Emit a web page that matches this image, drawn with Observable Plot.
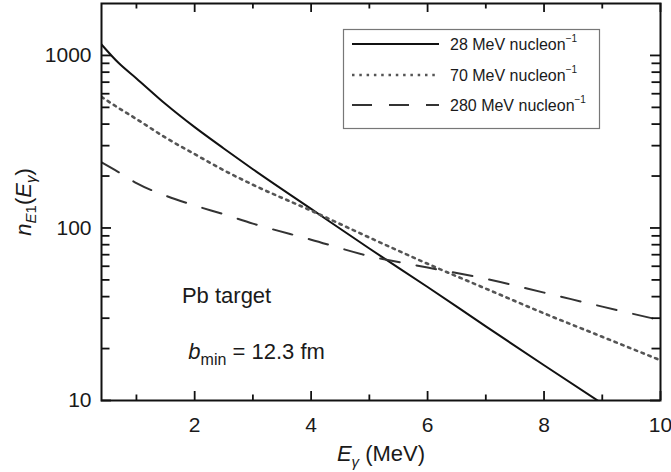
<!DOCTYPE html>
<html><head><meta charset="utf-8">
<script src="https://cdn.jsdelivr.net/npm/d3@7"></script>
<script src="https://cdn.jsdelivr.net/npm/@observablehq/plot@0.6"></script>
<style>
body{margin:0;background:#fff;}
#chart svg{font-family:"Liberation Sans",Arial,Helvetica,sans-serif;}
</style></head><body><div id="chart"></div>
<script>
// photon energy (MeV)
const energies = [0.4, 0.7, 1, 1.5, 2, 2.5, 3, 4, 5, 6, 7, 8, 9, 10];
// n_E1 for each beam energy
const n28 = [1158, 900, 736, 523, 384, 289, 219, 129, 76, 45.5, 26.9, 16, 9.6, null];
const n70 = [575, 494, 428, 334, 268, 216, 178, 126, 88, 62, 44.5, 32, 23.4, 17.1];
const n280 = [240, 210, 182, 154, 135, 120, 106, 85.5, 68.7, 59, 50.7, 42.2, 35, 29.2];
const seriesNames = ["28 MeV nucleon", "70 MeV nucleon", "280 MeV nucleon"];

const xMajor = [2, 4, 6, 8, 10];
const xMinor = [1, 3, 5, 7, 9];
const yMajor = [10, 100, 1000];
const yMinor = [20, 30, 40, 50, 60, 70, 80, 90, 200, 300, 400, 500, 600, 700, 800, 900];

// annotation anchors (data coords)
const noteTarget = {x: 1.79, y: 36.5, text: "Pb target"};
const noteB = {x: 1.9, y: 17.3};

const rows = arr => energies.map((x, i) => ({x, y: arr[i]})).filter(d => d.y != null);

const W = 671, H = 472, mL = 101, mR = 11, mT = 3, mB = 72;
const xDomain = [0.4, 10], yDomain = [10, 2000];

const ink = "#1a1a1a";
const styles = [
  {stroke: "#111", strokeWidth: 2, dash: null},
  {stroke: "#555", strokeWidth: 2.6, dash: "2.5,4.8"},
  {stroke: "#333", strokeWidth: 2, dash: "20,17"}
];

const base = {
  width: W, height: H,
  marginLeft: mL, marginRight: mR, marginTop: mT, marginBottom: mB,
  x: {domain: xDomain, label: null},
  y: {type: "log", domain: yDomain, label: null}
};
// first pass gives the scales, used to turn tick lengths in pixels into data units
const probe = Plot.plot({...base, marks: [Plot.frame()]});
const px = probe.scale("x"), py = probe.scale("y");
const yAt = p => py.invert(p), xAt = p => px.invert(p);
const bottomPx = H - mB, topPx = mT, leftPx = mL, rightPx = W - mR;

const tickStroke = "#111";
const tickMarks = [];
[[xMajor, 9], [xMinor, 5.5]].forEach(([vals, len]) => {
  tickMarks.push(Plot.ruleX(vals, {x: d => d, y1: yDomain[0], y2: yAt(bottomPx - len), stroke: tickStroke, strokeWidth: 1.8}));
  tickMarks.push(Plot.ruleX(vals, {x: d => d, y1: yDomain[1], y2: yAt(topPx + len), stroke: tickStroke, strokeWidth: 1.8}));
});
[[yMajor, 10], [yMinor, 8.5]].forEach(([vals, len]) => {
  tickMarks.push(Plot.ruleY(vals, {y: d => d, x1: xDomain[0], x2: xAt(leftPx + len), stroke: tickStroke, strokeWidth: 1.8}));
  tickMarks.push(Plot.ruleY(vals, {y: d => d, x1: xDomain[1], x2: xAt(rightPx - len), stroke: tickStroke, strokeWidth: 1.8}));
});

const common = {x: "x", y: "y", curve: "monotone-x", clip: true};
const plot = Plot.plot({
  ...base,
  style: {fontSize: "21px", color: ink, background: "white"},
  marks: [
    Plot.line(rows(n28), {...common, stroke: styles[0].stroke, strokeWidth: styles[0].strokeWidth}),
    Plot.line(rows(n70), {...common, stroke: styles[1].stroke, strokeWidth: styles[1].strokeWidth, strokeDasharray: styles[1].dash}),
    Plot.line(rows(n280), {...common, stroke: styles[2].stroke, strokeWidth: styles[2].strokeWidth, strokeDasharray: styles[2].dash}),
    ...tickMarks,
    Plot.axisX(xMajor, {anchor: "bottom", tickSize: 0, tickPadding: 17, tickFormat: d => String(d), label: null, fontSize: 21}),
    Plot.axisY(yMajor, {anchor: "left", tickSize: 0, tickPadding: 10, tickFormat: d => String(d), label: null, fontSize: 21}),
    Plot.frame({stroke: "#111", strokeWidth: 2})
  ]
});
document.getElementById("chart").appendChild(plot);

const sx = plot.scale("x"), sy = plot.scale("y");
const svg = d3.select(plot);

// x-axis title
const xt = svg.append("text").attr("x", 381).attr("y", 461).attr("text-anchor", "middle")
  .attr("font-size", 22).attr("fill", ink);
xt.append("tspan").attr("font-style", "italic").text("E");
xt.append("tspan").attr("font-style", "italic").attr("font-size", 15).attr("dy", 6).text("γ");
xt.append("tspan").attr("dy", -6).text(" (MeV)");

// y-axis title
const yt = svg.append("text").attr("transform", "translate(31,202) rotate(-90)")
  .attr("text-anchor", "middle").attr("font-size", 22).attr("fill", ink);
yt.append("tspan").attr("font-style", "italic").text("n");
yt.append("tspan").attr("font-style", "italic").attr("font-size", 15).attr("dy", 5).text("E");
yt.append("tspan").attr("font-size", 15).text("1");
yt.append("tspan").attr("dy", -5).text("(");
yt.append("tspan").attr("font-style", "italic").text("E");
yt.append("tspan").attr("font-style", "italic").attr("font-size", 15).attr("dy", 5).text("γ");
yt.append("tspan").attr("dy", -5).text(")");

// annotations
svg.append("text").attr("x", sx.apply(noteTarget.x)).attr("y", sy.apply(noteTarget.y))
  .attr("text-anchor", "start").attr("font-size", 22).attr("fill", ink).text(noteTarget.text);
const bt = svg.append("text").attr("x", sx.apply(noteB.x)).attr("y", sy.apply(noteB.y))
  .attr("text-anchor", "start").attr("font-size", 22).attr("fill", ink);
bt.append("tspan").attr("font-style", "italic").text("b");
bt.append("tspan").attr("font-size", 16).attr("dy", 6).text("min");
bt.append("tspan").attr("dy", -6).text(" = 12.3 fm");

// legend
const lg = svg.append("g");
lg.append("rect").attr("x", 343.5).attr("y", 29.5).attr("width", 256).attr("height", 99)
  .attr("fill", "white").attr("stroke", "#777").attr("stroke-width", 1.2);
const legendY = [44, 75, 105];
seriesNames.forEach((name, i) => {
  lg.append("line").attr("x1", 352).attr("x2", 439).attr("y1", legendY[i]).attr("y2", legendY[i])
    .attr("stroke", styles[i].stroke).attr("stroke-width", styles[i].strokeWidth)
    .attr("stroke-dasharray", styles[i].dash);
  const t = lg.append("text").attr("x", 450).attr("y", legendY[i] + 5.5).attr("text-anchor", "start")
    .attr("font-size", 16).attr("fill", ink);
  t.append("tspan").text(name);
  t.append("tspan").attr("font-size", 10).attr("dy", -8).text("−1");
});
</script></body></html>
